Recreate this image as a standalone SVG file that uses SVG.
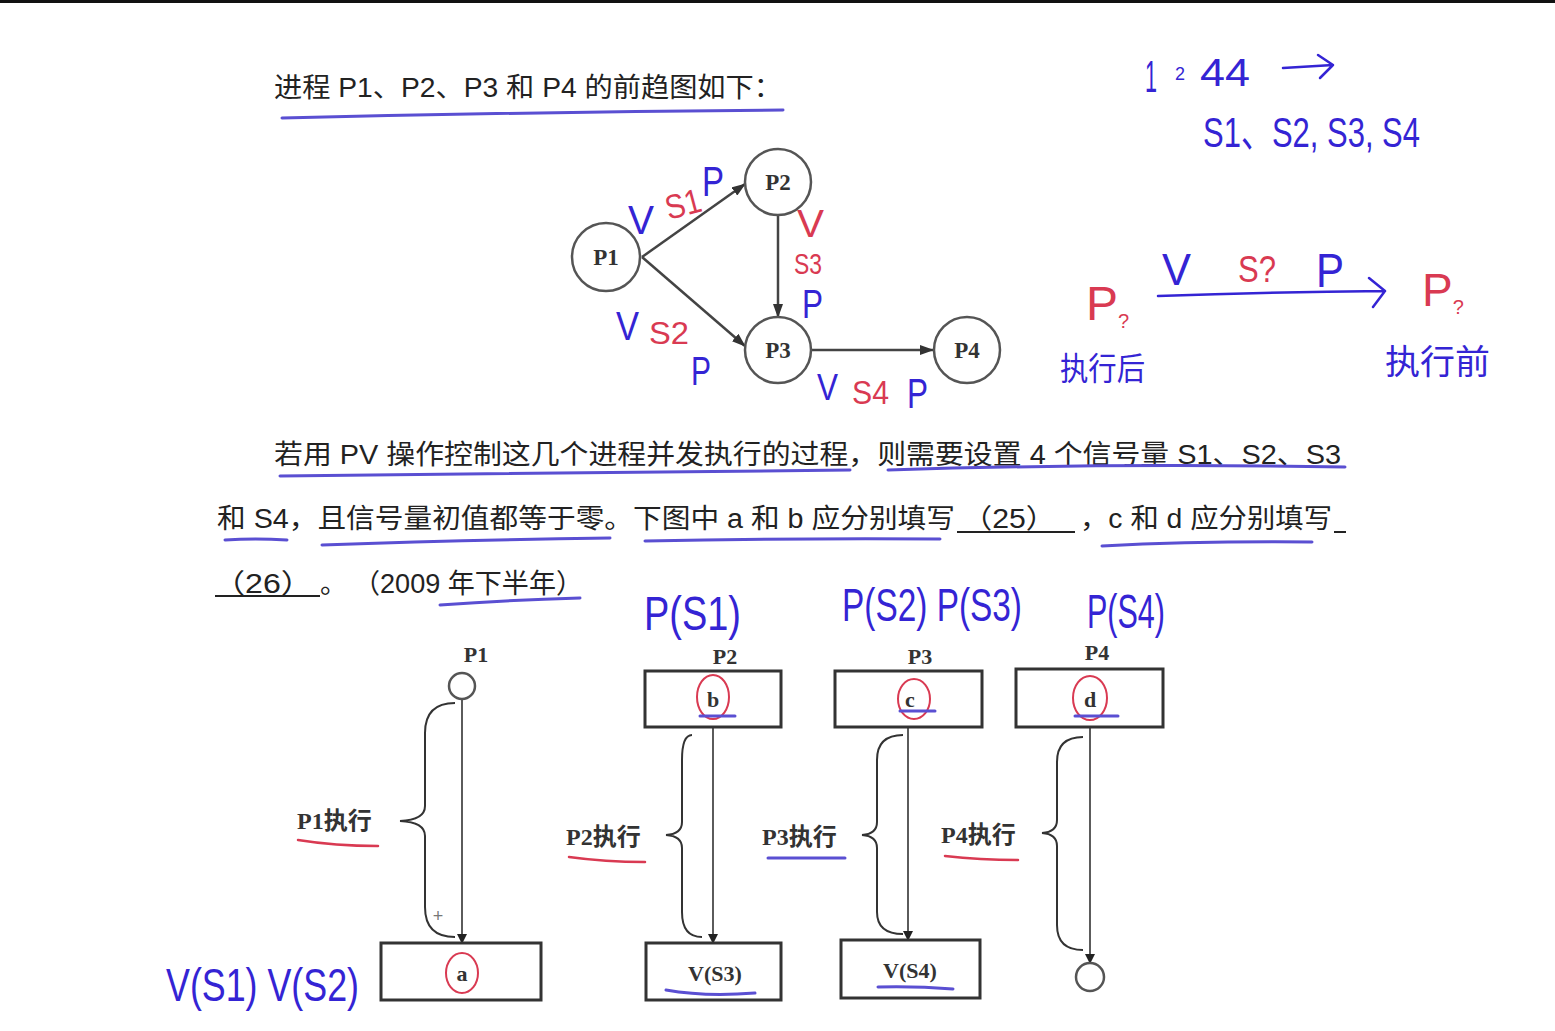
<svg xmlns="http://www.w3.org/2000/svg" width="1555" height="1031" viewBox="0 0 1555 1031">
<defs>
<style>
.txt{font-family:"Liberation Sans","Noto Sans CJK SC",sans-serif;font-size:27px;fill:#222}
.lbl{font-family:"Liberation Serif","Noto Sans CJK SC",serif;font-weight:bold;fill:#333}
.hb{font-family:"Liberation Sans","Noto Sans CJK SC",sans-serif;font-weight:normal;fill:#3424d4}
.hr{font-family:"Liberation Sans","Noto Sans CJK SC",sans-serif;font-weight:normal;fill:#d93a52}
.node{fill:#fff;stroke:#555;stroke-width:2.5}
.edge{stroke:#444;stroke-width:2.5;fill:none}
.vline{stroke:#333;stroke-width:1.6;fill:none}
.box{fill:#fff;stroke:#333;stroke-width:3}
.brace{stroke:#333;stroke-width:2;fill:none}
.ul{stroke:#5a4fd2;stroke-width:3;fill:none;stroke-linecap:round}
.rul{stroke:#d93a52;stroke-width:2.5;fill:none;stroke-linecap:round}
.hbl{stroke:#3424d4;stroke-width:2.5;fill:none;stroke-linecap:round;stroke-linejoin:round}
.rcirc{stroke:#d93a52;stroke-width:2;fill:none}
.blank{stroke:#222;stroke-width:2}
</style>
<marker id="arr" markerWidth="14" markerHeight="10" refX="13" refY="5" orient="auto" markerUnits="userSpaceOnUse">
<path d="M0,0 L14,5 L0,10 Z" fill="#333"/>
</marker>
<marker id="arr2" markerWidth="10" markerHeight="14" refX="9" refY="7" orient="auto" markerUnits="userSpaceOnUse">
<path d="M0,2 L10,7 L0,12 Z" fill="#222"/>
</marker>
</defs>
<rect width="1555" height="1031" fill="#fff"/>
<rect x="0" y="0" width="1555" height="3" fill="#111"/>

<!-- Question text -->
<g id="question-text">
<text class="txt" x="274" y="97" textLength="508" lengthAdjust="spacingAndGlyphs">进程 P1、P2、P3 和 P4 的前趋图如下：</text>
<path class="ul" d="M282,118 Q530,112 783,110"/>
<text class="txt" x="274" y="464" textLength="1067" lengthAdjust="spacingAndGlyphs">若用 PV 操作控制这几个进程并发执行的过程，则需要设置 4 个信号量 S1、S2、S3</text>
<path class="ul" d="M280,476 Q560,472 850,470"/>
<path class="ul" d="M888,470 Q1110,463 1345,467"/>
<text class="txt" x="217" y="528" textLength="738" lengthAdjust="spacingAndGlyphs">和 S4，且信号量初值都等于零。下图中 a 和 b 应分别填写</text>
<line class="blank" x1="957" y1="532" x2="1075" y2="532"/>
<text class="txt" x="962" y="528" textLength="94" lengthAdjust="spacingAndGlyphs">（25）</text>
<text class="txt" x="1080" y="528" textLength="252" lengthAdjust="spacingAndGlyphs">，c 和 d 应分别填写</text>
<line class="blank" x1="1334" y1="532" x2="1346" y2="532"/>
<path class="ul" d="M225,540 Q255,538 287,540"/>
<path class="ul" d="M322,545 Q460,540 610,538"/>
<path class="ul" d="M645,541 Q790,538 940,539"/>
<path class="ul" d="M1102,546 Q1200,541 1312,542"/>
<line class="blank" x1="215" y1="596" x2="320" y2="596"/>
<text class="txt" x="213" y="593" textLength="100" lengthAdjust="spacingAndGlyphs">（26）</text>
<text class="txt" x="320" y="593">。</text>
<text class="txt" x="353" y="593" textLength="230" lengthAdjust="spacingAndGlyphs">（2009 年下半年）</text>
<path class="ul" d="M440,605 Q510,600 580,598"/>
</g>

<!-- Precedence graph connectors -->
<g id="connectors">
<line class="edge" x1="642" y1="257" x2="745" y2="184" marker-end="url(#arr)"/>
<line class="edge" x1="642" y1="257" x2="745" y2="346" marker-end="url(#arr)"/>
<line class="edge" x1="778" y1="215" x2="778" y2="317" marker-end="url(#arr)"/>
<line class="edge" x1="811" y1="350" x2="933" y2="350" marker-end="url(#arr)"/>
<line class="vline" x1="462" y1="699" x2="462" y2="943" marker-end="url(#arr2)"/>
<line class="vline" x1="713" y1="727" x2="713" y2="943" marker-end="url(#arr2)"/>
<line class="vline" x1="908" y1="727" x2="908" y2="940" marker-end="url(#arr2)"/>
<line class="vline" x1="1090" y1="727" x2="1090" y2="963" marker-end="url(#arr2)"/>
</g>

<g id="node-P1"><circle class="node" cx="606" cy="257" r="34"/><text class="lbl" x="606" y="265" font-size="23" text-anchor="middle">P1</text></g>
<g id="node-P2"><circle class="node" cx="778" cy="182" r="33"/><text class="lbl" x="778" y="190" font-size="23" text-anchor="middle">P2</text></g>
<g id="node-P3"><circle class="node" cx="778" cy="350" r="33"/><text class="lbl" x="778" y="358" font-size="23" text-anchor="middle">P3</text></g>
<g id="node-P4"><circle class="node" cx="967" cy="350" r="33"/><text class="lbl" x="967" y="358" font-size="23" text-anchor="middle">P4</text></g>

<!-- Handwritten annotations on graph -->
<g id="graph-notes">
<text class="hb" x="628" y="234" font-size="40" textLength="26" lengthAdjust="spacingAndGlyphs">V</text>
<text class="hr" x="664" y="216" font-size="34" textLength="36" lengthAdjust="spacingAndGlyphs" transform="rotate(-15 682 200)">S1</text>
<text class="hb" x="702" y="196" font-size="42" textLength="22" lengthAdjust="spacingAndGlyphs">P</text>
<text class="hr" x="797" y="237" font-size="38" textLength="27" lengthAdjust="spacingAndGlyphs">V</text>
<text class="hr" x="794" y="274" font-size="30" textLength="28" lengthAdjust="spacingAndGlyphs">S3</text>
<text class="hb" x="802" y="318" font-size="40" textLength="21" lengthAdjust="spacingAndGlyphs">P</text>
<text class="hb" x="616" y="340" font-size="40" textLength="23" lengthAdjust="spacingAndGlyphs">V</text>
<text class="hr" x="649" y="344" font-size="32" textLength="40" lengthAdjust="spacingAndGlyphs">S2</text>
<text class="hb" x="691" y="385" font-size="40" textLength="20" lengthAdjust="spacingAndGlyphs">P</text>
<text class="hb" x="817" y="400" font-size="36" textLength="21" lengthAdjust="spacingAndGlyphs">V</text>
<text class="hr" x="852" y="404" font-size="34" textLength="37" lengthAdjust="spacingAndGlyphs">S4</text>
<text class="hb" x="907" y="408" font-size="42" textLength="21" lengthAdjust="spacingAndGlyphs">P</text>
</g>

<!-- Handwritten notes, right -->
<g id="right-notes">
<text class="hb" x="1145" y="92" font-size="44" textLength="12" lengthAdjust="spacingAndGlyphs">1</text>
<text class="hb" x="1175" y="80" font-size="18">2</text>
<text class="hb" x="1200" y="86" font-size="38" textLength="50" lengthAdjust="spacingAndGlyphs">44</text>
<path class="hbl" d="M1283,68 L1333,65 M1318,55 L1333,65 L1320,78"/>
<text class="hb" x="1203" y="147" font-size="42" textLength="217" lengthAdjust="spacingAndGlyphs">S1、S2, S3, S4</text>
<text class="hr" x="1086" y="320" font-size="48">P<tspan font-size="20" dy="8">?</tspan></text>
<text class="hb" x="1060" y="380" font-size="32" textLength="85" lengthAdjust="spacingAndGlyphs">执行后</text>
<path class="hbl" d="M1158,296 Q1270,292 1385,291 M1369,278 L1385,291 L1373,307"/>
<text class="hb" x="1162" y="285" font-size="44" textLength="29" lengthAdjust="spacingAndGlyphs">V</text>
<text class="hr" x="1238" y="282" font-size="36" textLength="38" lengthAdjust="spacingAndGlyphs">S?</text>
<text class="hb" x="1316" y="287" font-size="48" textLength="28" lengthAdjust="spacingAndGlyphs">P</text>
<text class="hr" x="1422" y="306" font-size="46">P<tspan font-size="20" dy="8">?</tspan></text>
<text class="hb" x="1385" y="374" font-size="34" textLength="105" lengthAdjust="spacingAndGlyphs">执行前</text>
</g>

<!-- Lower diagram -->
<g id="p1-column">
<text class="lbl" x="476" y="662" font-size="22" text-anchor="middle">P1</text>
<circle class="node" cx="462" cy="686" r="13" stroke="#222" stroke-width="2"/>
<path class="brace" d="M455,703 Q425,703 425,733 L425,806 Q425,820 400,821 Q425,822 425,836 L425,907 Q425,937 455,937"/>
<text x="438" y="922" font-family="Liberation Sans,sans-serif" font-size="18" fill="#777" text-anchor="middle">+</text>
<text class="lbl" x="297" y="829" font-size="24">P1执行</text>
<path class="rul" d="M298,840 Q335,846 378,846"/>
</g>
<g id="box-a">
<rect class="box" x="381" y="943" width="160" height="57"/>
<text class="lbl" x="462" y="981" font-size="22" text-anchor="middle" fill="#222">a</text>
<ellipse class="rcirc" cx="462" cy="973" rx="16" ry="20"/>
</g>
<text class="hb" x="166" y="1001" font-size="46" textLength="193" lengthAdjust="spacingAndGlyphs">V(S1) V(S2)</text>

<g id="p2-column">
<text class="lbl" x="725" y="664" font-size="22" text-anchor="middle">P2</text>
<path class="brace" d="M692,735 Q682,735 682,760 L682,822 Q682,834 666,835 Q682,836 682,848 L682,912 Q682,937 702,937"/>
<text class="lbl" x="566" y="845" font-size="24">P2执行</text>
<path class="rul" d="M569,857 Q605,862 645,862"/>
</g>
<g id="box-b">
<rect class="box" x="645" y="671" width="136" height="56"/>
<text class="lbl" x="713" y="707" font-size="22" text-anchor="middle" fill="#222">b</text>
<ellipse class="rcirc" cx="713" cy="697" rx="16" ry="22"/>
<path class="ul" d="M700,716 L735,716"/>
</g>
<g id="box-vs3">
<rect class="box" x="646" y="943" width="135" height="57"/>
<text class="lbl" x="715" y="981" font-size="22" text-anchor="middle" fill="#222">V(S3)</text>
<path class="ul" d="M666,990 Q705,997 755,993"/>
</g>
<text class="hb" x="644" y="630" font-size="48" textLength="97" lengthAdjust="spacingAndGlyphs">P(S1)</text>

<g id="p3-column">
<text class="lbl" x="920" y="664" font-size="22" text-anchor="middle">P3</text>
<path class="brace" d="M903,735 Q877,735 877,760 L877,822 Q877,834 862,835 Q877,836 877,848 L877,912 Q877,934 903,934"/>
<text class="lbl" x="762" y="845" font-size="24">P3执行</text>
<path class="ul" d="M768,858 L845,858"/>
</g>
<g id="box-c">
<rect class="box" x="835" y="671" width="147" height="56"/>
<text class="lbl" x="910" y="707" font-size="22" text-anchor="middle" fill="#222">c</text>
<ellipse class="rcirc" cx="914" cy="699" rx="16" ry="20"/>
<path class="ul" d="M900,711 L935,711"/>
</g>
<g id="box-vs4">
<rect class="box" x="841" y="940" width="139" height="58"/>
<text class="lbl" x="910" y="978" font-size="22" text-anchor="middle" fill="#222">V(S4)</text>
<path class="ul" d="M878,987 Q915,986 953,989"/>
</g>
<text class="hb" x="842" y="621" font-size="46" textLength="180" lengthAdjust="spacingAndGlyphs">P(S2) P(S3)</text>

<g id="p4-column">
<text class="lbl" x="1097" y="660" font-size="22" text-anchor="middle">P4</text>
<path class="brace" d="M1083,737 Q1057,737 1057,762 L1057,820 Q1057,832 1042,833 Q1057,834 1057,846 L1057,925 Q1057,950 1083,950"/>
<text class="lbl" x="941" y="843" font-size="24">P4执行</text>
<path class="rul" d="M945,856 Q980,860 1018,860"/>
</g>
<g id="box-d">
<rect class="box" x="1016" y="669" width="147" height="58"/>
<text class="lbl" x="1090" y="707" font-size="22" text-anchor="middle" fill="#222">d</text>
<ellipse class="rcirc" cx="1090" cy="698" rx="17" ry="22"/>
<path class="ul" d="M1075,716 L1118,716"/>
</g>
<g id="end-p4"><circle class="node" cx="1090" cy="977" r="14" stroke="#222" stroke-width="2"/></g>
<text class="hb" x="1087" y="628" font-size="48" textLength="78" lengthAdjust="spacingAndGlyphs">P(S4)</text>
</svg>
